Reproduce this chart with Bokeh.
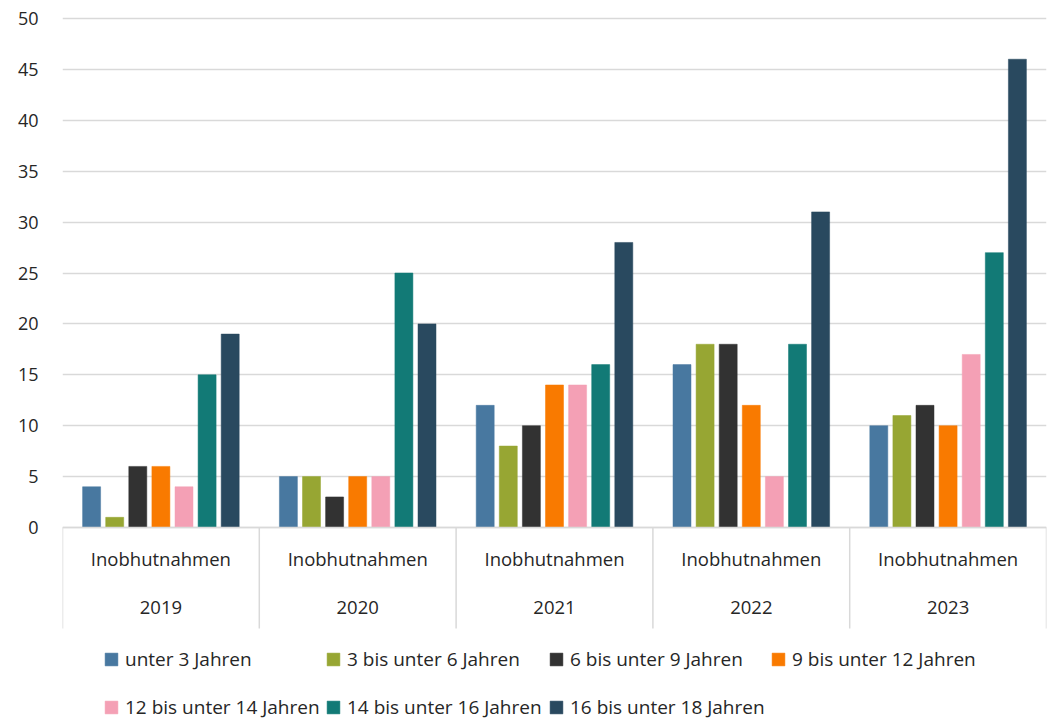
from bokeh.plotting import figure
from bokeh.models import Range1d, FixedTicker, Legend, LegendItem, ColumnDataSource
from bokeh.core.properties import value
from bokeh.embed import file_html
from bokeh.resources import INLINE

# --- data -------------------------------------------------------------
years = ["2019", "2020", "2021", "2022", "2023"]
category = "Inobhutnahmen"

series_names = [
    "unter 3 Jahren",
    "3 bis unter 6 Jahren",
    "6 bis unter 9 Jahren",
    "9 bis unter 12 Jahren",
    "12 bis unter 14 Jahren",
    "14 bis unter 16 Jahren",
    "16 bis unter 18 Jahren",
]
unter_3 = [4, 5, 12, 16, 10]
von_3_bis_6 = [1, 5, 8, 18, 11]
von_6_bis_9 = [6, 3, 10, 18, 12]
von_9_bis_12 = [6, 5, 14, 12, 10]
von_12_bis_14 = [4, 5, 14, 5, 17]
von_14_bis_16 = [15, 25, 16, 18, 27]
von_16_bis_18 = [19, 20, 28, 31, 46]

y_ticks = [0, 5, 10, 15, 20, 25, 30, 35, 40, 45, 50]

# --- styling ----------------------------------------------------------
colors = ["#4878a0", "#97a633", "#323232", "#f97a00", "#f4a0b5", "#127a76", "#29495f"]
FONT = "Open Sans"
TEXT = "#262626"
GRID = "#d9d9d9"

W, H = 1051, 720
LEFT, RIGHT = 62, 5
frame_w = W - LEFT - RIGHT
zero_px, top_px = 527, 18               # screen rows of 0 and 50
px_per_unit = (zero_px - top_px) / 50.0

y_start = -(H - zero_px) / px_per_unit
y_end = 50 + top_px / px_per_unit

p = figure(
    width=W, height=H,
    x_range=Range1d(0, len(years)),
    y_range=Range1d(y_start, y_end),
    x_axis_location=None,
    output_backend="svg", toolbar_location=None,
    min_border_left=LEFT, min_border_right=RIGHT,
    min_border_top=0, min_border_bottom=0,
)
p.outline_line_color = None
p.xgrid.visible = False
p.ygrid.ticker = FixedTicker(ticks=y_ticks)
p.ygrid.grid_line_color = GRID
p.ygrid.grid_line_width = 1.5

yax = p.yaxis[0]
yax.ticker = FixedTicker(ticks=y_ticks)
yax.axis_line_color = None
yax.major_tick_line_color = None
yax.minor_tick_line_color = None
yax.major_label_standoff = 18
yax.major_label_text_font = FONT
yax.major_label_text_font_size = "18px"
yax.major_label_text_color = TEXT

# --- bars: seven series dodged within each year ----------------------
group_px = frame_w / len(years)
step = 23.1 / group_px
bar_w = 18.0 / group_px
all_series = [unter_3, von_3_bis_6, von_6_bis_9, von_9_bis_12,
              von_12_bis_14, von_14_bis_16, von_16_bis_18]

renderers = []
for k, (vals, col) in enumerate(zip(all_series, colors)):
    xs = [i + 0.5 + (k - 3) * step for i in range(len(years))]
    src = ColumnDataSource(dict(x=xs, top=vals))
    r = p.vbar(x="x", top="top", bottom=0, width=bar_w, source=src,
               fill_color=col, line_color=col, line_width=0.5)
    renderers.append(r)

# --- two-level category axis drawn underneath the bars -------------
sep_bottom = -(628 - zero_px) / px_per_unit
bounds = list(range(len(years) + 1))
p.segment(x0=bounds, y0=[0] * len(bounds), x1=bounds, y1=[sep_bottom] * len(bounds),
          line_color=GRID, line_width=1.5)
p.segment(x0=[0], y0=[0], x1=[len(years)], y1=[0], line_color=GRID, line_width=1.5)

centers = [i + 0.5 for i in range(len(years))]
p.text(x=centers, y=[-(558 - zero_px) / px_per_unit] * len(years),
       text=[category] * len(years), text_align="center", text_baseline="middle",
       text_font=value(FONT), text_font_size="18.5px", text_color=TEXT)
p.text(x=centers, y=[-(607 - zero_px) / px_per_unit] * len(years),
       text=years, text_align="center", text_baseline="middle",
       text_font=value(FONT), text_font_size="18.5px", text_color=TEXT)

# --- legend: four equal columns, two rows ---------------------------
col_x = [41, 263, 486, 708]
row_y = [48, 0]
for k, (name, r) in enumerate(zip(series_names, renderers)):
    row, col = divmod(k, 4)
    leg = Legend(items=[LegendItem(label=name, renderers=[r])],
                 location=(col_x[col], row_y[row]),
                 padding=0, margin=0, spacing=0,
                 glyph_width=16, glyph_height=16, label_height=16,
                 label_standoff=6,
                 label_text_font=FONT, label_text_font_size="19px",
                 label_text_color=TEXT,
                 border_line_color=None, background_fill_alpha=0)
    p.add_layout(leg, "center")

open("out.html", "w").write(file_html(p, INLINE))
